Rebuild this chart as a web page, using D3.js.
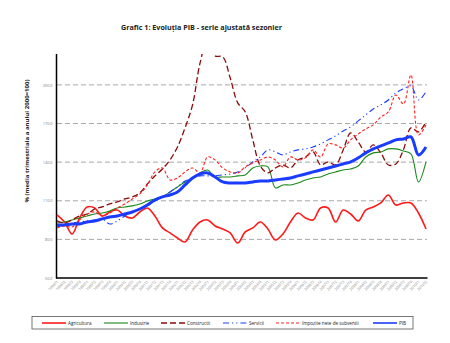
<!DOCTYPE html>
<html>
<head>
<meta charset="utf-8">
<script src="https://cdn.jsdelivr.net/npm/d3@7/dist/d3.min.js"></script>
<style>
  html, body { margin: 0; padding: 0; background: #fff; }
  svg { display: block; }
  text { font-family: "Open Sans", "Liberation Sans", sans-serif; }
</style>
</head>
<body>
<svg id="chart" width="450" height="343"></svg>
<script>
// Quarterly periods on the x axis
const years = [1998, 1999, 2000, 2001, 2002, 2003, 2004, 2005, 2006, 2007, 2008, 2009, 2010];
const quarters = ["T1", "T2", "T3", "T4"];
const periods = [];
years.forEach(y => quarters.forEach(q => { if (periods.length < 50) periods.push(y + q); }));

// Y axis ticks
const yTicks = [50, 80, 110, 140, 170, 200];

// Seasonally adjusted indices (2000 quarterly average = 100)
const agricultura = [99.0, 93.5, 84.2, 96.6, 105.2, 104.4, 98.2, 101.3, 102.8, 98.2,
  96.6, 101.3, 104.4, 98.2, 88.9, 85.0, 81.1, 78.0, 87.3, 93.5,
  95.1, 90.4, 88.1, 85.0, 77.2, 85.8, 88.9, 93.5, 88.1, 79.5,
  84.2, 93.5, 100.5, 96.6, 95.1, 104.4, 104.4, 93.5, 102.8, 99.7,
  94.3, 102.8, 105.2, 108.3, 114.5, 106.7, 108.3, 108.3, 100.5, 88.1];

const industrie = [92.7, 93.5, 95.1, 96.6, 98.2, 99.7, 100.5, 102.1, 104.4, 105.2,
  106.0, 107.5, 109.8, 111.4, 113.0, 116.8, 120.7, 124.6, 127.7, 131.6,
  133.9, 128.5, 128.5, 128.5, 129.3, 130.1, 135.5, 137.0, 136.3, 120.0,
  122.3, 122.3, 123.8, 126.2, 127.7, 128.5, 130.8, 132.4, 133.9, 134.7,
  137.0, 144.0, 147.2, 147.9, 150.3, 150.3, 148.7, 146.4, 124.6, 140.2];

const constructii = [94.3, 92.7, 95.1, 98.2, 99.7, 103.6, 105.2, 107.5, 109.1, 111.4,
  113.0, 116.1, 123.1, 129.3, 134.7, 141.7, 151.8, 166.6, 184.5, 217.1,
  235.0, 222.5, 221.8, 205.4, 186.0, 179.0, 157.3, 137.0, 131.6, 135.5,
  137.8, 135.5, 141.7, 144.0, 147.9, 137.8, 140.2, 137.8, 149.5, 162.7,
  155.7, 147.9, 153.4, 147.2, 137.8, 138.6, 149.5, 166.6, 163.5, 171.2];

const servicii = [89.6, 91.2, 92.7, 93.5, 94.3, 95.1, 95.9, 92.0, 94.3, 98.2,
  101.3, 103.6, 106.7, 109.8, 113.0, 116.8, 120.7, 125.4, 127.7, 129.3,
  129.3, 129.3, 130.1, 130.8, 132.4, 135.5, 140.2, 144.0, 149.5, 147.9,
  145.6, 147.9, 149.5, 150.3, 151.8, 154.1, 157.3, 160.4, 164.2, 167.4,
  172.0, 176.7, 181.3, 184.5, 188.3, 193.8, 196.9, 199.2, 188.3, 194.6];

const impozite = [88.9, 90.4, 89.6, 95.1, 99.7, 101.3, 98.2, 100.5, 104.4, 107.5,
  111.4, 115.3, 122.3, 132.4, 135.5, 126.2, 127.7, 132.4, 135.5, 131.6,
  144.0, 141.7, 135.5, 132.4, 131.6, 136.3, 139.4, 141.7, 144.0, 141.7,
  136.3, 144.0, 141.7, 143.3, 149.5, 144.0, 154.1, 153.4, 151.0, 157.3,
  161.9, 165.8, 168.9, 175.1, 179.0, 192.2, 185.2, 207.8, 161.1, 168.9];

const pib = [91.2, 91.2, 92.0, 92.0, 93.5, 94.3, 95.9, 97.4, 98.2, 99.7,
  101.3, 103.6, 106.7, 110.6, 113.0, 114.5, 116.8, 122.3, 127.7, 130.8,
  131.6, 128.5, 124.6, 123.8, 123.8, 123.8, 124.6, 125.4, 125.4, 126.2,
  126.9, 127.7, 129.3, 130.8, 132.4, 133.9, 135.5, 137.0, 138.6, 140.2,
  143.3, 147.2, 150.3, 152.6, 154.9, 157.3, 158.0, 159.6, 145.6, 151.8];

const seriesNames = ["Agricultura", "Industrie", "Constructii", "Servicii", "Impozite nete de subventii", "PIB"];
const seriesValues = [agricultura, industrie, constructii, servicii, impozite, pib];
const seriesStyle = [
  { color: "#ff1a1a", width: 1.6, dash: null },
  { color: "#1a8a1a", width: 1.1, dash: null },
  { color: "#8b0a0a", width: 1.3, dash: "6,3" },
  { color: "#1a3cff", width: 1.1, dash: "6,3,1.2,3,1.2,3" },
  { color: "#ff2020", width: 1.1, dash: "3,2" },
  { color: "#1a3cff", width: 3.0, dash: null }
];

const svg = d3.select("#chart");

const x = d3.scalePoint().domain(periods).range([57, 426]);
const y = d3.scaleLinear().domain([50, 224]).range([278, 54]);

// Title
svg.append("text")
  .attr("x", 201.5).attr("y", 30)
  .attr("text-anchor", "middle")
  .attr("font-size", 7.2).attr("font-weight", "bold")
  .attr("fill", "#222")
  .attr("textLength", 161).attr("lengthAdjust", "spacingAndGlyphs")
  .text("Grafic 1: Evoluția PIB - serie ajustată sezonier");

// Y axis title
svg.append("text")
  .attr("transform", "translate(29,141) rotate(-90)")
  .attr("text-anchor", "middle")
  .attr("font-size", 5.4).attr("font-weight", "bold")
  .attr("fill", "#222")
  .attr("textLength", 123).attr("lengthAdjust", "spacingAndGlyphs")
  .text("% (media trimestriala a anului 2000=100)");

// Horizontal gridlines
svg.append("g")
  .selectAll("line")
  .data(yTicks.filter(v => v > 50))
  .join("line")
  .attr("x1", 57).attr("x2", 427)
  .attr("y1", d => y(d)).attr("y2", d => y(d))
  .attr("stroke", "#a8a8a8").attr("stroke-width", 1)
  .attr("stroke-dasharray", "5,3");

// Y axis
const yAxis = d3.axisLeft(y).tickValues(yTicks).tickSize(0).tickPadding(4)
  .tickFormat(d3.format(".1f"));
const gy = svg.append("g").attr("transform", "translate(56.5,0)").call(yAxis);
gy.select(".domain").remove();
gy.selectAll("text").attr("font-size", 3.8).attr("fill", "#777");
svg.append("line")
  .attr("x1", 56.5).attr("x2", 56.5).attr("y1", 54).attr("y2", 278.5)
  .attr("stroke", "#000").attr("stroke-width", 1.5);

// X axis
const xAxis = d3.axisBottom(x).tickSize(0).tickPadding(0);
const gx = svg.append("g").attr("transform", "translate(0,278)").call(xAxis);
gx.select(".domain").remove();
gx.selectAll("text")
  .attr("font-size", 3.6).attr("fill", "#888")
  .attr("text-anchor", "end")
  .attr("dy", 0)
  .attr("transform", "translate(1,4) rotate(-45)");
svg.append("line")
  .attr("x1", 56).attr("x2", 427.5).attr("y1", 278).attr("y2", 278)
  .attr("stroke", "#000").attr("stroke-width", 1.5);

// Smoothed lines, clipped to the plot area
svg.append("clipPath").attr("id", "plot-clip")
  .append("rect").attr("x", 56).attr("y", 54).attr("width", 380).attr("height", 224);

const line = d3.line()
  .x((d, i) => x(periods[i]))
  .y(d => y(d))
  .curve(d3.curveCatmullRom.alpha(0.5));

const gLines = svg.append("g").attr("clip-path", "url(#plot-clip)");
seriesValues.forEach((vals, k) => {
  const st = seriesStyle[k];
  gLines.append("path")
    .datum(vals)
    .attr("d", line)
    .attr("fill", "none")
    .attr("stroke", st.color)
    .attr("stroke-width", st.width)
    .attr("stroke-linejoin", "round")
    .attr("stroke-dasharray", st.dash);
});

// Legend
const legend = svg.append("g");
legend.append("rect")
  .attr("x", 32).attr("y", 316.5).attr("width", 381).attr("height", 12.5)
  .attr("fill", "#fff").attr("stroke", "#555").attr("stroke-width", 0.8);
const legendX = [42, 104, 161, 223, 276, 373];
seriesNames.forEach((name, k) => {
  const st = seriesStyle[k];
  const lx = legendX[k];
  legend.append("line")
    .attr("x1", lx).attr("x2", lx + 24).attr("y1", 323).attr("y2", 323)
    .attr("stroke", st.color)
    .attr("stroke-width", Math.min(st.width, 1.6))
    .attr("stroke-dasharray", st.dash);
  legend.append("text")
    .attr("x", lx + 26).attr("y", 324.8)
    .attr("font-size", 4.6).attr("fill", "#222")
    .text(name);
});
</script>
</body>
</html>
